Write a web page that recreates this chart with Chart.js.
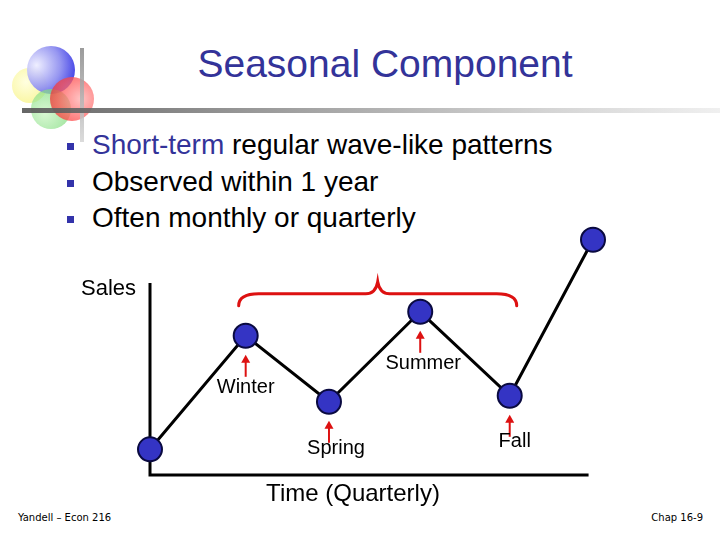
<!DOCTYPE html>
<html>
<head>
<meta charset="utf-8">
<script src="https://cdn.jsdelivr.net/npm/chart.js@4.4.0/dist/chart.umd.min.js"></script>
<style>
  html, body { margin: 0; padding: 0; background: #fff; }
  body { width: 720px; height: 540px; position: relative; overflow: hidden; font-family: "Liberation Sans", Arial, sans-serif; }
  #chart { position: absolute; left: 0; top: 0; }

  /* logo circles */
  .dot { position: absolute; border-radius: 50%; }
  .blue   { left: 27px; top: 46px; width: 48px; height: 48px; background: radial-gradient(circle at 20% 40%, #eeeeff 0%, #9090f0 50%, #1010e0 100%); opacity: .95; }
  .yellow { left: 12px; top: 68px; width: 35px; height: 35px; background: radial-gradient(circle at 40% 40%, #ffffd8, #f6f070); opacity: .8; }
  .red    { left: 50px; top: 77px; width: 44px; height: 44px; background: radial-gradient(circle at 70% 50%, #ffb0b0 0%, #ff5050 60%, #e02020 100%); opacity: .75; }
  .green  { left: 31px; top: 89px; width: 40px; height: 40px; background: radial-gradient(circle at 35% 60%, #c8f5c0, #60d060); opacity: .7; }
  .vbar { position: absolute; left: 80px; top: 48px; width: 4px; height: 94px; background: linear-gradient(#8a8a8a, #d5d5d5); opacity: .85; }
  .hbar { position: absolute; left: 22px; top: 108px; width: 698px; height: 5px; background: linear-gradient(90deg, #555 0%, #888 30%, #cfcfcf 75%, #eee 100%); opacity: .9; }

  .title { position: absolute; left: 0; width: 770px; top: 40px; text-align: center; font-size: 39px; line-height: 48px; color: #333399; }
  .line { position: absolute; left: 92px; font-size: 28px; line-height: 36px; white-space: nowrap; color: #000; }
  .sq { position: absolute; left: 67px; width: 7px; height: 7px; background: #3333aa; }
  .hl { color: #333399; }
  .foot { position: absolute; top: 512px; font-family: Tahoma, "DejaVu Sans", sans-serif; font-size: 10px; color: #000; }
</style>
</head>
<body>
<div class="dot yellow"></div>
<div class="dot blue"></div>
<div class="dot green"></div>
<div class="dot red"></div>
<div class="vbar"></div>
<div class="hbar"></div>

<div class="title">Seasonal Component</div>

<div class="sq" style="top:143px"></div>
<div class="line" style="top:127px"><span class="hl">Short-term</span> regular wave-like patterns</div>
<div class="sq" style="top:180px"></div>
<div class="line" style="top:164px">Observed within 1 year</div>
<div class="sq" style="top:216px"></div>
<div class="line" style="top:200px">Often monthly or quarterly</div>

<div class="foot" style="left:18px">Yandell – Econ 216</div>
<div class="foot" style="right:17px">Chap 16-9</div>

<canvas id="chart" width="720" height="540"></canvas>

<script>
// ── Data ────────────────────────────────────────────────────
const quarterPos = [0, 1.08, 2.02, 3.05, 4.06, 5];
const sales = [10.7, 58, 30.5, 68, 33, 98];
const seasonNames = ['Winter', 'Spring', 'Summer', 'Fall'];
const seasonPoints = [1, 2, 3, 4];
const yAxisTop = 80;
const xAxisEnd = 4.95;

const RED = '#dd1111';
const FONT = '"Liberation Sans", Arial, sans-serif';

// label offsets from the point centre (px)
const labelOffsets = [
  { dx: 0, dy: 52 },
  { dx: 7, dy: 47 },
  { dx: 3, dy: 52 },
  { dx: 5, dy: 46 }
];

// ── Axes, arrows, brace ─────────────────────────────────────
const slideAnnotations = {
  id: 'slideAnnotations',
  beforeDatasetsDraw(chart) {
    const { ctx, scales: { x, y } } = chart;
    const x0 = x.getPixelForValue(0);
    const y0 = y.getPixelForValue(0);
    ctx.save();
    ctx.strokeStyle = '#000';
    ctx.lineWidth = 3;
    ctx.beginPath();
    ctx.moveTo(x0, y.getPixelForValue(yAxisTop));
    ctx.lineTo(x0, y0);
    ctx.lineTo(x.getPixelForValue(xAxisEnd), y0);
    ctx.stroke();

    ctx.fillStyle = '#000';
    ctx.font = '22px ' + FONT;
    ctx.textAlign = 'left';
    ctx.textBaseline = 'middle';
    ctx.fillText('Sales', 81, y.getPixelForValue(yAxisTop) + 6);
    ctx.font = '24px ' + FONT;
    ctx.textAlign = 'center';
    ctx.fillText('Time (Quarterly)', x0 + 203, y0 + 19);
    ctx.restore();
  },
  afterDatasetsDraw(chart) {
    const { ctx, scales: { x, y } } = chart;
    ctx.save();
    seasonPoints.forEach((idx, i) => {
      const px = x.getPixelForValue(quarterPos[idx]);
      const py = y.getPixelForValue(sales[idx]);
      const tip = py + 19;
      // arrow shaft
      ctx.strokeStyle = RED;
      ctx.lineWidth = 2;
      ctx.beginPath();
      ctx.moveTo(px, tip + 4);
      ctx.lineTo(px, tip + 22);
      ctx.stroke();
      // arrow head
      ctx.fillStyle = RED;
      ctx.beginPath();
      ctx.moveTo(px, tip);
      ctx.lineTo(px - 4.5, tip + 8);
      ctx.lineTo(px + 4.5, tip + 8);
      ctx.closePath();
      ctx.fill();
      // label
      ctx.fillStyle = '#000';
      ctx.font = '20px ' + FONT;
      ctx.textAlign = 'center';
      ctx.textBaseline = 'middle';
      ctx.fillText(seasonNames[i], px + labelOffsets[i].dx, py + labelOffsets[i].dy);
    });

    // brace over one year of seasons
    const bx1 = x.getPixelForValue(quarterPos[seasonPoints[0]]) - 7;
    const bx2 = x.getPixelForValue(quarterPos[seasonPoints[seasonPoints.length - 1]]) + 7;
    const bm = (bx1 + bx2) / 2;
    const by = y.getPixelForValue(sales[3]) - 18;
    ctx.strokeStyle = RED;
    ctx.lineWidth = 3;
    ctx.lineCap = 'round';
    ctx.beginPath();
    ctx.moveTo(bx1, by + 12);
    ctx.quadraticCurveTo(bx1, by, bx1 + 20, by);
    ctx.lineTo(bm - 12, by);
    ctx.quadraticCurveTo(bm - 2, by, bm, by - 12);
    ctx.quadraticCurveTo(bm + 2, by, bm + 12, by);
    ctx.lineTo(bx2 - 20, by);
    ctx.quadraticCurveTo(bx2, by, bx2, by + 12);
    ctx.stroke();
    ctx.restore();
  }
};

new Chart(document.getElementById('chart').getContext('2d'), {
  type: 'line',
  data: {
    datasets: [{
      data: quarterPos.map((q, i) => ({ x: q, y: sales[i] })),
      borderColor: '#000',
      borderWidth: 3,
      tension: 0,
      clip: false,
      pointRadius: 12,
      pointBackgroundColor: '#3434c4',
      pointBorderColor: '#0a0a40',
      pointBorderWidth: 2
    }]
  },
  options: {
    responsive: false,
    animation: false,
    events: [],
    layout: { padding: { left: 150, right: 127, top: 235, bottom: 65 } },
    plugins: { legend: { display: false }, tooltip: { enabled: false } },
    scales: {
      x: { type: 'linear', min: 0, max: 5, display: false },
      y: { min: 0, max: 100, display: false }
    }
  },
  plugins: [slideAnnotations]
});
</script>
</body>
</html>
